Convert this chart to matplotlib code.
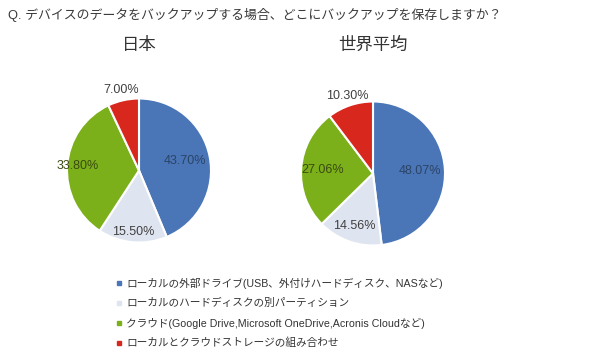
import numpy as np
import matplotlib
matplotlib.use("Agg")
import matplotlib.pyplot as plt

plt.rcParams["font.family"] = ["Liberation Sans", "Noto Sans CJK JP", "DejaVu Sans"]

# データ
question = "Q. デバイスのデータをバックアップする場合、どこにバックアップを保存しますか？"
categories = [
    "ローカルの外部ドライブ(USB、外付けハードディスク、NASなど)",
    "ローカルのハードディスクの別パーティション",
    "クラウド(Google Drive,Microsoft OneDrive,Acronis Cloudなど)",
    "ローカルとクラウドストレージの組み合わせ",
]
japan = [43.70, 15.50, 33.80, 7.00]
world = [48.07, 14.56, 27.06, 10.30]
titles = ["日本", "世界平均"]
colors = ["#4a76b8", "#dfe5f0", "#7bb01a", "#d8281e"]
label_colors = ["#2b4466", "#404040", "#3a4a10", "#404040"]

W, H = 600, 359
fig = plt.figure(figsize=(W / 100, H / 100), dpi=100)

# 質問文
fig.text(8 / W, 1 - 15 / H, question, fontsize=9.3, color="#3a3a3a", va="center", ha="left")


def draw_pie(cx, cy, r, values, title, dists):
    ax = fig.add_axes([(cx - r) / W, 1 - (cy + r) / H, 2 * r / W, 2 * r / H])
    ax.pie(values, colors=colors, startangle=90, counterclock=False,
           wedgeprops=dict(edgecolor="white", linewidth=1.5))
    ax.set_xlim(-1, 1)
    ax.set_ylim(-1, 1)
    ax.set_aspect("equal")
    ax.axis("off")
    # ラベル
    total = sum(values)
    start = 90.0
    for v, d, c in zip(values, dists, label_colors):
        sweep = v / total * 360
        mid = np.deg2rad(start - sweep / 2)
        start -= sweep
        ax.text(d * np.cos(mid), d * np.sin(mid), f"{v:.2f}%", fontsize=9,
                color=c, ha="center", va="center", clip_on=False)
    fig.text(cx / W, 1 - 45 / H, title, fontsize=12.5, color="#333333",
             ha="center", va="center")


draw_pie(139, 170.5, 72, japan, titles[0], [0.65, 0.86, 0.85, 1.14])
draw_pie(373, 173.5, 72, world, titles[1], [0.66, 0.77, 0.70, 1.14])

# 凡例
for i, (cat, col) in enumerate(zip(categories, colors)):
    y = 1 - (283 + i * 20) / H
    fig.patches.append(plt.Rectangle((117 / W, y - 2 / H), 4 / W, 4 / H,
                                     transform=fig.transFigure, color=col))
    fig.text(126 / W, y, cat, fontsize=7.7, color="#333333", va="center", ha="left")

fig.savefig("out.png", dpi=100, facecolor="white")
